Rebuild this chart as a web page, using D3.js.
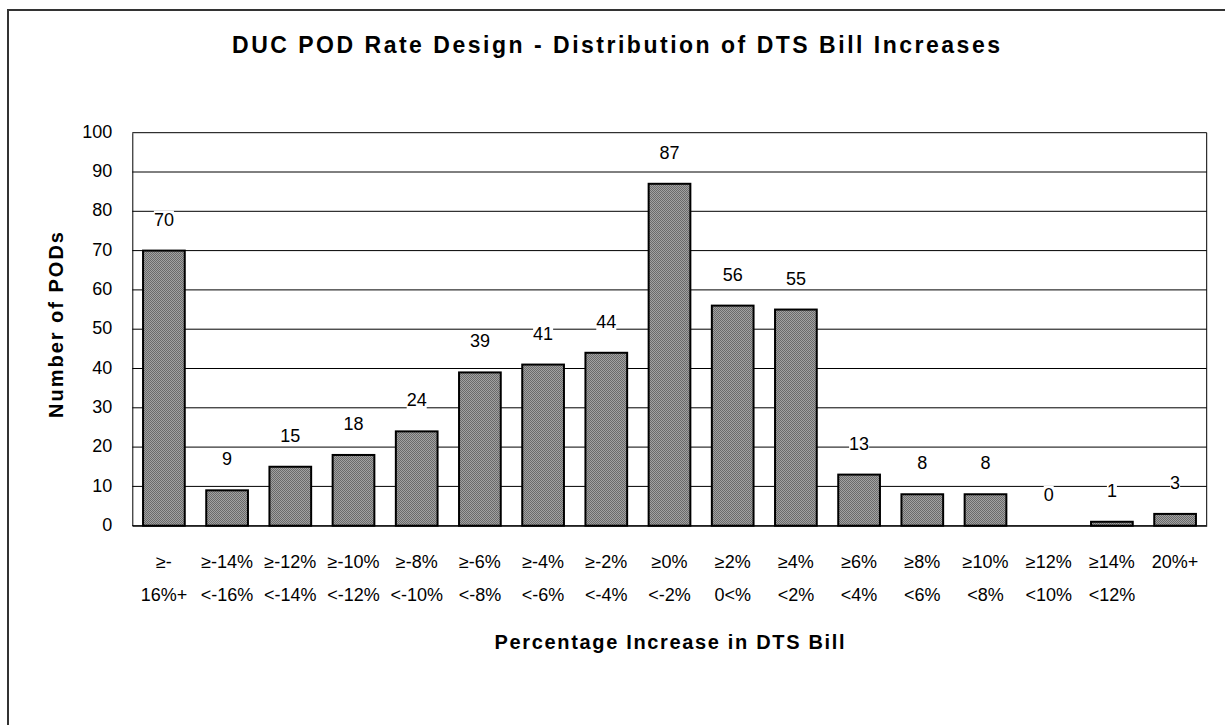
<!DOCTYPE html>
<html>
<head>
<meta charset="utf-8">
<script src="https://cdn.jsdelivr.net/npm/d3@7"></script>
<style>
  html, body { margin: 0; padding: 0; background: #fff; }
  svg { display: block; font-family: "Liberation Sans", Arial, sans-serif; }
</style>
</head>
<body>
<svg id="chart" width="1225" height="725"></svg>
<script>
// Bill-increase bands (two label lines each) and POD counts per band
const labelTop    = ["≥-", "≥-14%", "≥-12%", "≥-10%", "≥-8%", "≥-6%", "≥-4%", "≥-2%", "≥0%", "≥2%", "≥4%", "≥6%", "≥8%", "≥10%", "≥12%", "≥14%", "20%+"];
const labelBottom = ["16%+", "<-16%", "<-14%", "<-12%", "<-10%", "<-8%", "<-6%", "<-4%", "<-2%", "0<%", "<2%", "<4%", "<6%", "<8%", "<10%", "<12%", ""];
const podCounts   = [70, 9, 15, 18, 24, 39, 41, 44, 87, 56, 55, 13, 8, 8, 0, 1, 3];
const yTicks      = [0, 10, 20, 30, 40, 50, 60, 70, 80, 90, 100];

const titleText  = "DUC POD Rate Design - Distribution of DTS Bill Increases";
const xTitleText = "Percentage Increase in DTS Bill";
const yTitleText = "Number of PODs";

const svg = d3.select("#chart");
const plot = { left: 132.3, right: 1206.7, top: 132.7, bottom: 525.7 };
const idx = d3.range(podCounts.length);

const x = d3.scaleBand()
  .domain(idx)
  .range([plot.left, plot.right])
  .paddingInner(0.34)
  .paddingOuter(0.17);

const y = d3.scaleLinear()
  .domain([0, 100])
  .range([plot.bottom, plot.top]);

// dithered grey fill for the bars
const defs = svg.append("defs");
const pat = defs.append("pattern")
  .attr("id", "dither")
  .attr("width", 2).attr("height", 2)
  .attr("patternUnits", "userSpaceOnUse");
pat.append("rect").attr("width", 2).attr("height", 2).attr("fill", "#a2a2a2");
pat.append("rect").attr("width", 1).attr("height", 1).attr("fill", "#6a6a6a");
pat.append("rect").attr("x", 1).attr("y", 1).attr("width", 1).attr("height", 1).attr("fill", "#6a6a6a");

// chart-area frame
svg.append("rect")
  .attr("x", 8).attr("y", 10)
  .attr("width", 1300).attr("height", 800)
  .attr("fill", "none")
  .attr("stroke", "#333")
  .attr("stroke-width", 2);

// title
svg.append("text")
  .attr("x", 616).attr("y", 53.3)
  .attr("text-anchor", "middle")
  .attr("font-size", 23)
  .attr("font-weight", "bold")
  .attr("textLength", 768)
  .attr("lengthAdjust", "spacing")
  .text(titleText);

// horizontal gridlines
svg.append("g")
  .selectAll("line")
  .data(yTicks)
  .join("line")
  .attr("x1", plot.left).attr("x2", plot.right)
  .attr("y1", d => y(d)).attr("y2", d => y(d))
  .attr("stroke", "#000")
  .attr("stroke-width", 1);

// right edge of the plot area
svg.append("line")
  .attr("x1", plot.right).attr("x2", plot.right)
  .attr("y1", plot.top).attr("y2", plot.bottom)
  .attr("stroke", "#000");

// y axis
const yAxis = svg.append("g")
  .attr("transform", `translate(${plot.left},0)`)
  .call(d3.axisLeft(y).tickValues(yTicks).tickSize(0).tickPadding(20));
yAxis.select(".domain").attr("stroke", "#000").attr("stroke-width", 1);
yAxis.selectAll("text")
  .attr("font-size", 18)
  .attr("font-family", "Liberation Sans, Arial, sans-serif")
  .attr("fill", "#000")
  .attr("dy", "0.26em");

// x axis with two-line category labels
const xAxis = svg.append("g")
  .attr("transform", `translate(0,${plot.bottom})`)
  .call(d3.axisBottom(x).tickSize(0).tickFormat(""));
xAxis.select(".domain").attr("stroke", "#000").attr("stroke-width", 1);
xAxis.selectAll(".tick text").remove();
const tickLabels = xAxis.selectAll(".tick")
  .append("text")
  .attr("text-anchor", "middle")
  .attr("font-size", 18)
  .attr("font-family", "Liberation Sans, Arial, sans-serif")
  .attr("fill", "#000");
tickLabels.append("tspan").attr("x", 0).attr("y", 42.3).text(d => labelTop[d]);
tickLabels.append("tspan").attr("x", 0).attr("y", 75.5).text(d => labelBottom[d]);

// bars
svg.append("g")
  .selectAll("rect")
  .data(idx)
  .join("rect")
  .attr("x", d => x(d))
  .attr("y", d => y(podCounts[d]))
  .attr("width", x.bandwidth())
  .attr("height", d => y(0) - y(podCounts[d]))
  .attr("fill", "url(#dither)")
  .attr("stroke", d => podCounts[d] > 0 ? "#000" : "none")
  .attr("stroke-width", 2);

// value labels on white boxes
const labels = svg.append("g")
  .selectAll("g")
  .data(idx)
  .join("g");
labels.append("rect").attr("fill", "#fff");
labels.append("text")
  .attr("x", d => x(d) + x.bandwidth() / 2)
  .attr("y", d => y(podCounts[d]) - 25)
  .attr("text-anchor", "middle")
  .attr("font-size", 18)
  .attr("fill", "#000")
  .text(d => podCounts[d]);
labels.each(function () {
  const g = d3.select(this);
  const b = g.select("text").node().getBBox();
  g.select("rect")
    .attr("x", b.x).attr("y", b.y + 1)
    .attr("width", b.width).attr("height", b.height - 2);
});

// axis titles
svg.append("text")
  .attr("x", (plot.left + plot.right) / 2)
  .attr("y", 649.3)
  .attr("text-anchor", "middle")
  .attr("font-size", 20)
  .attr("font-weight", "bold")
  .attr("textLength", 350)
  .attr("lengthAdjust", "spacing")
  .text(xTitleText);

svg.append("text")
  .attr("transform", "translate(63,325) rotate(-90)")
  .attr("text-anchor", "middle")
  .attr("font-size", 20)
  .attr("font-weight", "bold")
  .attr("textLength", 186)
  .attr("lengthAdjust", "spacing")
  .text(yTitleText);
</script>
</body>
</html>
